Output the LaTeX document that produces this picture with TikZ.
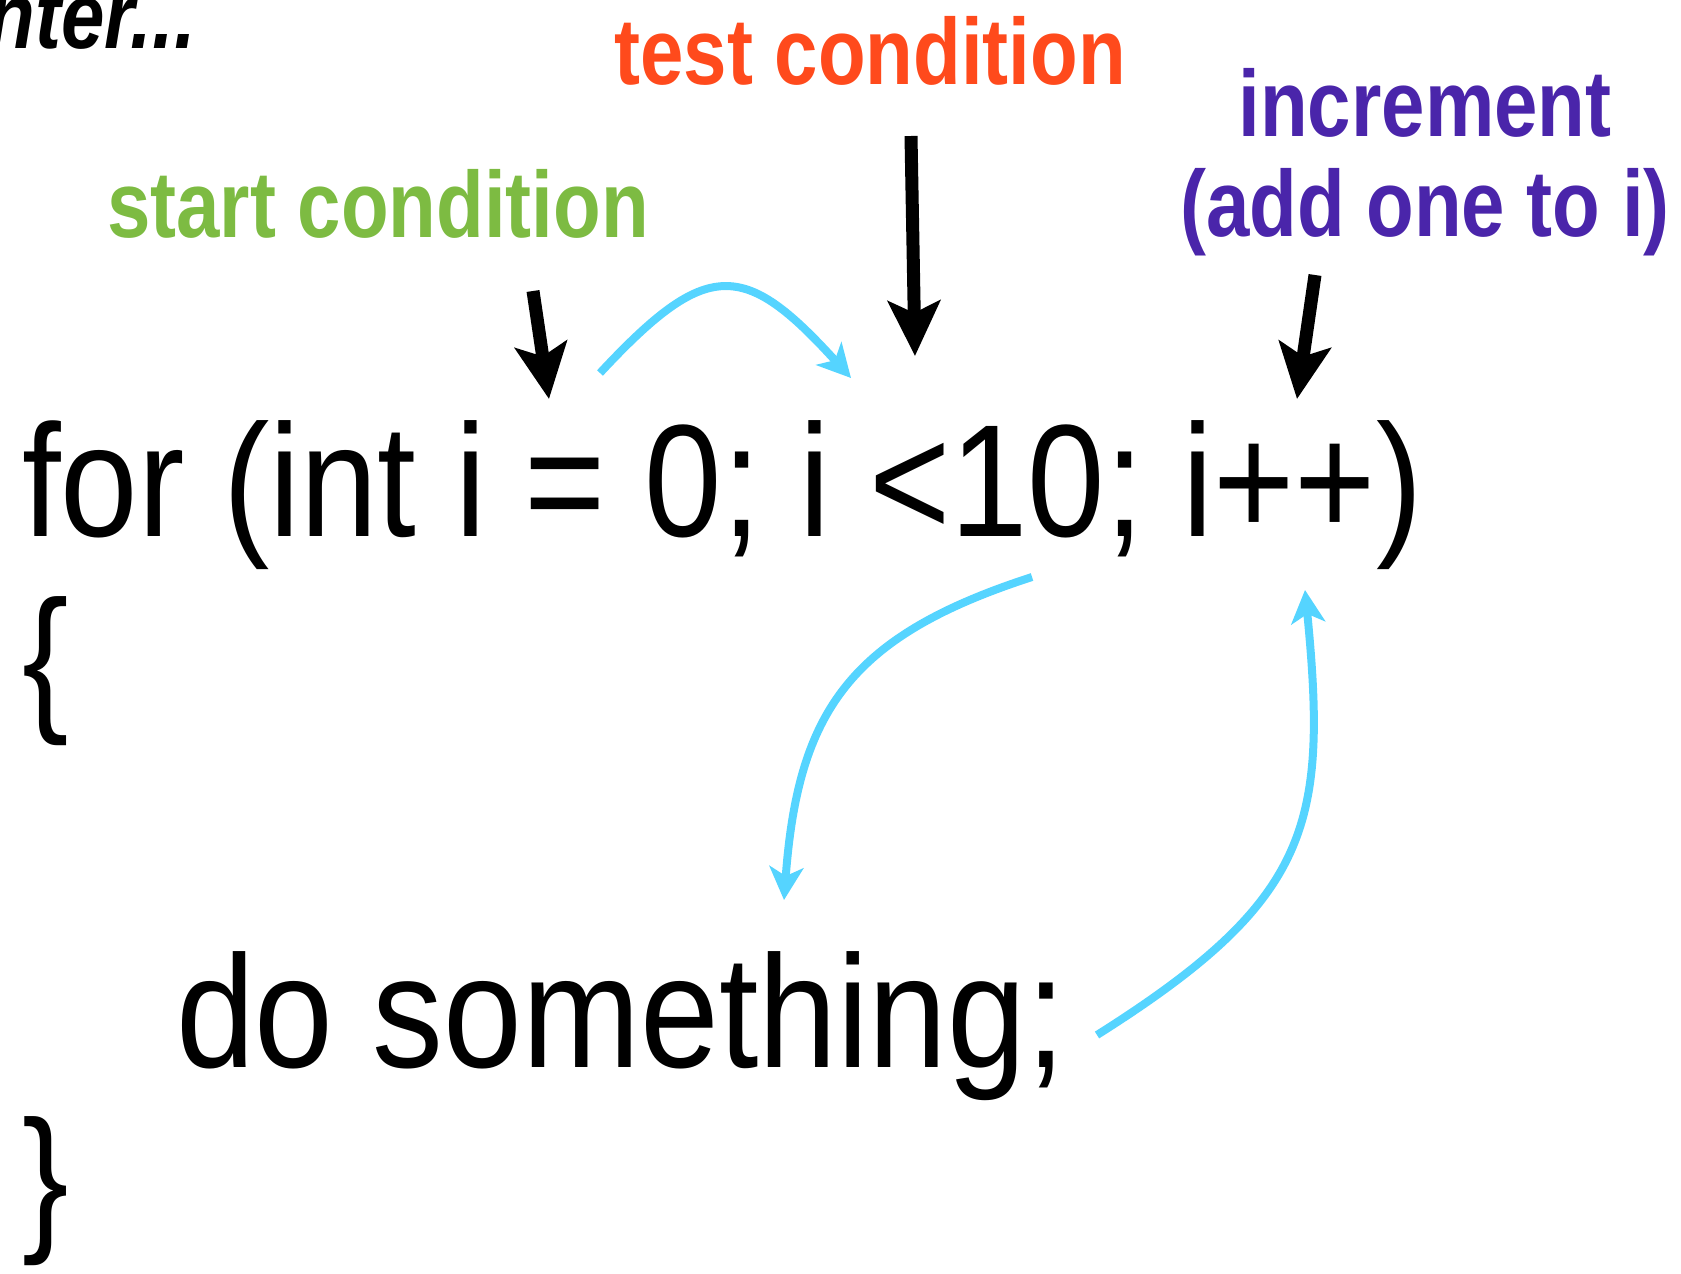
\documentclass[tikz,border=0pt]{standalone}
\usepackage{fontspec}
\usepackage{xcolor}
\usepackage{tikz}
\usetikzlibrary{arrows.meta,positioning}

\newfontfamily\codefont[FakeStretch=0.87]{Liberation Sans}
\newfontfamily\bodyfont[FakeStretch=0.885]{Liberation Sans}
\newfontfamily\tagfont[FakeStretch=0.83]{Liberation Sans}
\definecolor{startgreen}{HTML}{7DBB42}
\definecolor{testred}{HTML}{FF4A1C}
\definecolor{incpurple}{HTML}{4A25AA}
\definecolor{loopcyan}{HTML}{55D4FF}

\begin{document}
\begin{tikzpicture}[
    x=1pt,y=-1pt,
    src/.style={anchor=base west, inner sep=0pt, font=\codefont\fontsize{160}{160}\selectfont},
    tag/.style={inner sep=0pt, align=center, font=\tagfont\bfseries\fontsize{94}{100}\selectfont},
    pin/.style={-{Stealth[length=55pt,width=52pt,inset=12pt]}, line width=13pt},
    flow/.style={-{Stealth[length=33pt,width=34pt,inset=9pt]}, line width=8pt, loopcyan}
]
\useasboundingbox (0,0) rectangle (1681,1274);

% Code lines
\node[src] (head) at (22,536) {for (int i = 0; i <10; i++)};
\node[src] (open) at (22,712) {\{};
\node[src, font=\bodyfont\fontsize{160}{160}\selectfont] (body) at (176,1067) {do something;};
\node[src] (close) at (22,1232) {\}};

% Labels above the loop header
\node[tag, anchor=base east, font=\tagfont\bfseries\itshape\fontsize{94}{100}\selectfont] (hint) at (196,48) {nter...};
\node[tag, anchor=base, text=startgreen] (startlbl) at (378,237) {start condition};
\node[tag, anchor=base, text=testred] (testlbl) at (870,84) {test condition};
\node[tag, text=incpurple] (inclbl) at (1425,162) {increment\\(add one to i)};

% Pointer ends
\coordinate (starttop) at (533,291);
\coordinate (starttip) at (549,399);
\coordinate (testtop) at (911,136);
\coordinate (testtip) at (915,356);
\coordinate (inctop) at (1315,275);
\coordinate (inctip) at (1297,399);

\draw[pin] (starttop) -- (starttip);
\draw[pin] (testtop) -- (testtip);
\draw[pin] (inctop) -- (inctip);

% Flow of the loop
\coordinate (initend) at (600,373);
\coordinate (testin) at (851,378);
\coordinate (testout) at (1032,577);
\coordinate (bodyin) at (784,900);
\coordinate (bodyout) at (1097,1035);
\coordinate (incin) at (1305,590);

\draw[flow] (initend) .. controls (707,258) and (744,260) .. (testin);
\draw[flow] (testout) .. controls (850,636) and (798,711) .. (bodyin);
\draw[flow] (bodyout) .. controls (1311,900) and (1328,825) .. (incin);
\end{tikzpicture}
\end{document}
